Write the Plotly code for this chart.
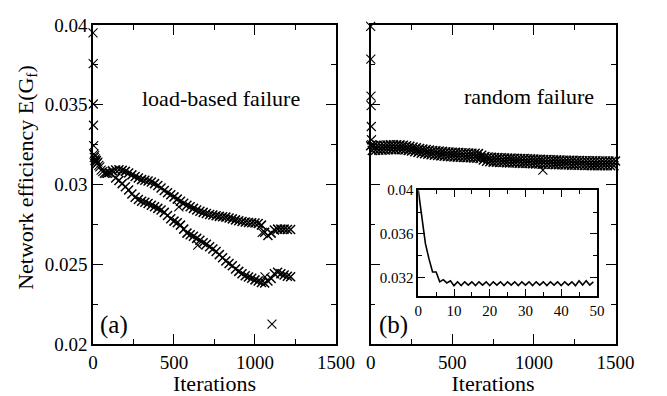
import plotly.graph_objects as go

# ---------------- data ----------------
# (a) load-based failure
a_early_x = [0, 1, 2, 3, 4, 6, 8, 10, 12, 15, 18, 21, 25, 30, 36, 42, 50, 60, 70, 80, 90]
a_early_y = [0.0395, 0.03757, 0.03504, 0.03371, 0.03243, 0.0319, 0.0317, 0.0318, 0.0315, 0.0316,
             0.0314, 0.0315, 0.0313, 0.0314, 0.0312, 0.0311, 0.0309, 0.0308, 0.0307, 0.0307, 0.0307]

a_upper_x = list(range(100, 1221, 20))
a_upper_y = [0.03075, 0.03085, 0.03090, 0.03092, 0.03088, 0.03082, 0.03072, 0.03060, 0.03050, 0.03040,
             0.03030, 0.03026, 0.03022, 0.03015, 0.03005, 0.02993, 0.02978, 0.02962, 0.02948, 0.02935,
             0.02922, 0.02908, 0.02895, 0.02882, 0.02870, 0.02860, 0.02850, 0.02840, 0.02832, 0.02825,
             0.02818, 0.02812, 0.02808, 0.02804, 0.02800, 0.02798, 0.02795, 0.02790, 0.02784, 0.02778,
             0.02773, 0.02768, 0.02765, 0.02762, 0.02760, 0.02758, 0.02755, 0.02745, 0.02700, 0.02680,
             0.02695, 0.02715, 0.02720, 0.02720, 0.02720, 0.02718, 0.02718]

a_lower_x = list(range(140, 1221, 20))
a_lower_y = [0.03040, 0.03025, 0.03005, 0.02985, 0.02965, 0.02940, 0.02920, 0.02905, 0.02895, 0.02888,
             0.02880, 0.02870, 0.02860, 0.02850, 0.02840, 0.02825, 0.02805, 0.02785, 0.02770, 0.02760,
             0.02745, 0.02720, 0.02695, 0.02685, 0.02675, 0.02662, 0.02650, 0.02635, 0.02625, 0.02610,
             0.02595, 0.02580, 0.02560, 0.02540, 0.02520, 0.02505, 0.02490, 0.02470, 0.02455, 0.02440,
             0.02428, 0.02420, 0.02412, 0.02402, 0.02395, 0.02385, 0.02382, 0.02395, 0.02410, 0.02440,
             0.02450, 0.02440, 0.02432, 0.02425, 0.02422]

a_stray_x = [530, 647, 1045, 1062, 1105]
a_stray_y = [0.0286, 0.0262, 0.0270, 0.02421, 0.02125]

# (b) random failure
b_early_x = [0, 1, 2, 3, 4, 5, 7]
b_early_y = [0.0399, 0.03785, 0.03553, 0.03494, 0.03363, 0.0328, 0.0325]

b_hi_x = list(range(0, 1501, 20))
b_hi_y = [0.03243, 0.03244, 0.03245, 0.03245, 0.03246, 0.03247, 0.03248, 0.03248, 0.03249, 0.03248,
          0.03246, 0.03243, 0.03239, 0.03235, 0.03230, 0.03225, 0.03222, 0.03219, 0.03216, 0.03213,
          0.03211, 0.03209, 0.03207, 0.03205, 0.03203, 0.03202, 0.03201, 0.03200, 0.03199, 0.03198,
          0.03197, 0.03196, 0.03195, 0.03193, 0.03183, 0.03175, 0.03172, 0.03170, 0.03169, 0.03168,
          0.03167, 0.03166, 0.03165, 0.03165, 0.03164, 0.03163, 0.03162, 0.03162, 0.03161, 0.03160,
          0.03159, 0.03158, 0.03157, 0.03156, 0.03156, 0.03155, 0.03154, 0.03154, 0.03153, 0.03152,
          0.03152, 0.03151, 0.03151, 0.03150, 0.03150, 0.03149, 0.03149, 0.03148, 0.03148, 0.03148,
          0.03147, 0.03147, 0.03147, 0.03147, 0.03147, 0.03147]

b_lo_x = list(range(10, 1501, 20))
b_lo_y = [0.03213, 0.03214, 0.03215, 0.03215, 0.03216, 0.03217, 0.03218, 0.03218, 0.03219, 0.03218,
          0.03216, 0.03213, 0.03209, 0.03205, 0.03200, 0.03195, 0.03192, 0.03189, 0.03186, 0.03183,
          0.03181, 0.03179, 0.03177, 0.03175, 0.03173, 0.03172, 0.03171, 0.03170, 0.03169, 0.03168,
          0.03167, 0.03166, 0.03165, 0.03163, 0.03153, 0.03145, 0.03142, 0.03140, 0.03139, 0.03138,
          0.03137, 0.03136, 0.03135, 0.03135, 0.03134, 0.03133, 0.03132, 0.03132, 0.03131, 0.03130,
          0.03129, 0.03128, 0.03127, 0.03126, 0.03126, 0.03125, 0.03124, 0.03124, 0.03123, 0.03122,
          0.03122, 0.03121, 0.03121, 0.03120, 0.03120, 0.03119, 0.03119, 0.03118, 0.03118, 0.03118,
          0.03117, 0.03117, 0.03117, 0.03117, 0.03117]

b_stray_x = [1055]
b_stray_y = [0.0309]

# inset: first 50 iterations of random failure
inset_x = list(range(0, 50))
inset_y = [0.0400, 0.0374, 0.0351, 0.0337, 0.0325, 0.0325, 0.0316, 0.0318, 0.0315, 0.0317,
           0.03125, 0.0316, 0.03125, 0.0316, 0.0313, 0.0316, 0.03125, 0.0316, 0.0313, 0.0316,
           0.03125, 0.0316, 0.0313, 0.0316, 0.03125, 0.0316, 0.0313, 0.0316, 0.03125, 0.0316,
           0.0313, 0.0316, 0.03125, 0.0316, 0.0313, 0.0316, 0.03125, 0.0316, 0.0313, 0.0316,
           0.03125, 0.0316, 0.0313, 0.0316, 0.03125, 0.0317, 0.0313, 0.0317, 0.0313, 0.0316]

x_ticks = [0, 500, 1000, 1500]
x_ticktext = ["0", "500", "1000", "1500"]
y_ticks = [0.02, 0.025, 0.03, 0.035, 0.04]
y_ticktext = ["0.02", "0.025", "0.03", "0.035", "0.04"]
inset_xticks = [0, 10, 20, 30, 40, 50]
inset_xticktext = ["0", "10", "20", "30", "40", "50"]
inset_yticks = [0.032, 0.036, 0.04]
inset_yticktext = ["0.032", "0.036", "0.04"]

# ---------------- figure ----------------
W, H = 667, 396
FONT = "Liberation Serif"
fig = go.Figure()

mk_dense = dict(symbol="x-thin-open", size=9, color="black", line=dict(color="black", width=1.5))
mk_single = dict(symbol="x-thin-open", size=9, color="black", line=dict(color="black", width=1.1))

def add_markers(xs, ys, xa, ya, mk):
    fig.add_trace(go.Scatter(x=xs, y=ys, mode="markers", marker=mk, xaxis=xa, yaxis=ya,
                             cliponaxis=False, showlegend=False, hoverinfo="skip"))

add_markers(a_early_x, a_early_y, "x", "y", mk_single)
add_markers(a_upper_x, a_upper_y, "x", "y", mk_dense)
add_markers(a_lower_x, a_lower_y, "x", "y", mk_dense)
add_markers(a_stray_x, a_stray_y, "x", "y", mk_single)
add_markers(b_early_x, b_early_y, "x2", "y2", mk_single)
add_markers(b_hi_x, b_hi_y, "x2", "y2", mk_dense)
add_markers(b_lo_x, b_lo_y, "x2", "y2", mk_dense)
add_markers(b_stray_x, b_stray_y, "x2", "y2", mk_single)

fig.add_trace(go.Scatter(x=inset_x, y=inset_y, mode="lines", line=dict(color="black", width=1.6),
                         xaxis="x3", yaxis="y3", showlegend=False, hoverinfo="skip"))

def px_x(p):
    return p / W

def px_y(p):
    return 1 - p / H

ax_common = dict(showline=True, linecolor="black", linewidth=1.5, mirror="allticks",
                 ticks="inside", ticklen=10, tickwidth=1.3, tickcolor="black",
                 showgrid=False, zeroline=False,
                 tickfont=dict(family=FONT, size=19, color="black"))

ydom = [px_y(352.7), px_y(15.7)]
xtitle = dict(text="Iterations", font=dict(family=FONT, size=22, color="black"), standoff=2)

fig.update_layout(
    width=W, height=H,
    margin=dict(l=0, r=0, t=0, b=0),
    paper_bgcolor="white", plot_bgcolor="white",
    font=dict(family=FONT, color="black"),
    xaxis=dict(ax_common, domain=[px_x(91.3), px_x(343.3)], range=[0, 1500],
               tickvals=x_ticks, ticktext=x_ticktext, anchor="y",
               minor=dict(ticks="inside", ticklen=5, dtick=250, tick0=0, tickcolor="black", tickwidth=1.3),
               title=xtitle),
    yaxis=dict(ax_common, domain=ydom, range=[0.02, 0.04],
               tickvals=y_ticks, ticktext=y_ticktext, anchor="x",
               minor=dict(ticks="inside", ticklen=5, dtick=0.0025, tick0=0.02, tickcolor="black", tickwidth=1.3)),
    xaxis2=dict(ax_common, domain=[px_x(379.3), px_x(633.3)], range=[0, 1500],
                tickvals=x_ticks, ticktext=x_ticktext, anchor="y2",
                minor=dict(ticks="inside", ticklen=5, dtick=250, tick0=0, tickcolor="black", tickwidth=1.3),
                title=xtitle),
    yaxis2=dict(ax_common, domain=ydom, range=[0.02, 0.04],
                tickvals=y_ticks, showticklabels=False, anchor="x2",
                minor=dict(ticks="inside", ticklen=5, dtick=0.0025, tick0=0.02, tickcolor="black", tickwidth=1.3)),
    xaxis3=dict(ax_common, domain=[px_x(428.7), px_x(614)], range=[0, 50],
                tickvals=inset_xticks, ticktext=inset_xticktext, anchor="y3", ticklen=7,
                tickfont=dict(family=FONT, size=15, color="black"),
                minor=dict(ticks="inside", ticklen=4, dtick=5, tick0=0, tickcolor="black", tickwidth=1.2)),
    yaxis3=dict(ax_common, domain=[px_y(302), px_y(190.3)], range=[0.0303, 0.04],
                tickvals=inset_yticks, ticktext=inset_yticktext, anchor="x3", ticklen=7,
                tickfont=dict(family=FONT, size=15, color="black"),
                minor=dict(ticks="inside", ticklen=4, dtick=0.002, tick0=0.03, tickcolor="black", tickwidth=1.2)),
    annotations=[
        dict(text="Network efficiency E(G<sub>f</sub>)", x=px_x(22), y=px_y(177), xref="paper", yref="paper",
             textangle=-90, showarrow=False, font=dict(family=FONT, size=22, color="black"),
             xanchor="center", yanchor="middle"),
        dict(text="load-based failure", x=px_x(224), y=px_y(93), xref="paper", yref="paper",
             showarrow=False, font=dict(family=FONT, size=22, color="black"), xanchor="center", yanchor="middle"),
        dict(text="random failure", x=px_x(544), y=px_y(91), xref="paper", yref="paper",
             showarrow=False, font=dict(family=FONT, size=22, color="black"), xanchor="center", yanchor="middle"),
        dict(text="(a)", x=px_x(113), y=px_y(333), xref="paper", yref="paper",
             showarrow=False, font=dict(family=FONT, size=25, color="black"), xanchor="center", yanchor="middle"),
        dict(text="(b)", x=px_x(402.5), y=px_y(333), xref="paper", yref="paper",
             showarrow=False, font=dict(family=FONT, size=25, color="black"), xanchor="center", yanchor="middle"),
    ],
)

fig.write_html("out.html")
